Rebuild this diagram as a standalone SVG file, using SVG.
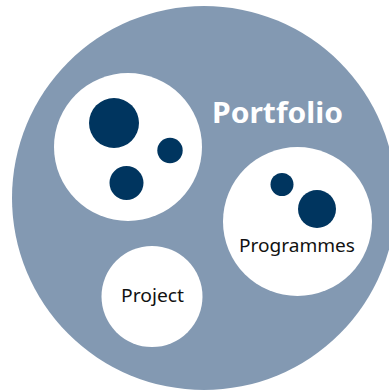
<svg xmlns="http://www.w3.org/2000/svg" width="389" height="392" viewBox="0 0 389 392">
  <style>
    .outer { fill: #8399b2; }
    .inner { fill: #ffffff; }
    .dot { fill: #00355f; }
    .label { font-family: "Noto Sans", "Open Sans", "DejaVu Sans", sans-serif; font-size: 18.5px; fill: #111111; text-anchor: middle; }
    .title { font-family: "Noto Sans", "Open Sans", "DejaVu Sans", sans-serif; font-size: 29px; font-weight: bold; fill: #ffffff; text-anchor: middle; }
  </style>
  <rect width="389" height="392" fill="#ffffff"/>
  <g id="portfolio">
    <circle class="outer" cx="204" cy="198" r="192"/>
    <text class="title" x="277.5" y="122.5" textLength="131" lengthAdjust="spacingAndGlyphs">Portfolio</text>
  </g>
  <g id="portfolio-group">
    <circle class="inner" cx="128" cy="147" r="74"/>
    <circle class="dot" cx="114" cy="123" r="25"/>
    <circle class="dot" cx="170" cy="150.5" r="12.7"/>
    <circle class="dot" cx="126.5" cy="183" r="17"/>
  </g>
  <g id="programmes">
    <circle class="inner" cx="297.5" cy="221.5" r="74.5"/>
    <circle class="dot" cx="282" cy="184.5" r="11.5"/>
    <circle class="dot" cx="317" cy="209" r="19"/>
    <text class="label" x="297" y="251.5" textLength="116" lengthAdjust="spacingAndGlyphs">Programmes</text>
  </g>
  <g id="project">
    <circle class="inner" cx="152" cy="296.5" r="50.5"/>
    <text class="label" x="152.5" y="302" textLength="63" lengthAdjust="spacingAndGlyphs">Project</text>
  </g>
  <g id="connectors"/>
</svg>
